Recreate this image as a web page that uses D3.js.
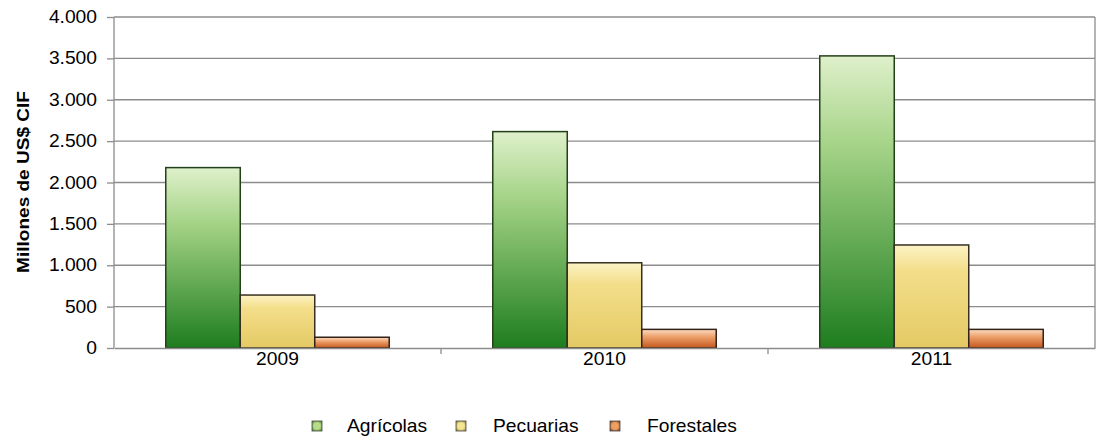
<!DOCTYPE html>
<html><head><meta charset="utf-8">
<script src="https://cdn.jsdelivr.net/npm/d3@7"></script>
<style>body{margin:0;background:#fff;font-family:"Liberation Sans",Arial,sans-serif}
text{font-family:"Liberation Sans",Arial,sans-serif}</style>
</head><body><svg id="c" width="1097" height="440"></svg>
<script>
const years = ["2009","2010","2011"];
const seriesNames = ["Agrícolas","Pecuarias","Forestales"];
const agricolas = [2180, 2615, 3530];
const pecuarias = [640, 1030, 1245];
const forestales = [130, 225, 225];
const yTicks = [0,500,1000,1500,2000,2500,3000,3500,4000];

const values = [agricolas, pecuarias, forestales];
const svg = d3.select("#c");
const m = {l:114, r:1095, t:17, b:348};
const FS = "17.5px", SX = 1.1;
const x0 = d3.scaleBand().domain(years).range([m.l, m.r]).paddingInner(0).paddingOuter(0);
const x1 = d3.scaleBand().domain(seriesNames).range([0, x0.bandwidth()]).paddingInner(0).paddingOuter(0.695);
const y = d3.scaleLinear().domain([0,4000]).range([m.b, m.t]);

const defs = svg.append("defs");
const grads = [
  {id:"gA", stops:[["0%","#dff0cb"],["30%","#a6d488"],["100%","#1e7d1e"]], stroke:"#24401a", leg:["#b8dc88","#3f7f24"]},
  {id:"gP", stops:[["0%","#fcf3c4"],["25%","#f3de8a"],["100%","#e4c964"]], stroke:"#363020", leg:["#f4e690","#8c7c34"]},
  {id:"gF", stops:[["0%","#fcdcc2"],["40%","#eda06a"],["100%","#c4561c"]], stroke:"#33221a", leg:["#eda060","#6e341a"]}
];
grads.forEach(g=>{
  const lg = defs.append("linearGradient").attr("id",g.id).attr("x1","0").attr("y1","0").attr("x2","0").attr("y2","1");
  g.stops.forEach(s=>lg.append("stop").attr("offset",s[0]).attr("stop-color",s[1]));
  const rg = defs.append("radialGradient").attr("id",g.id+"L").attr("r","0.7");
  rg.append("stop").attr("offset","0%").attr("stop-color",g.leg[0]);
  rg.append("stop").attr("offset","45%").attr("stop-color",g.leg[0]);
  rg.append("stop").attr("offset","100%").attr("stop-color",g.leg[1]);
});

// gridlines
svg.append("g").selectAll("line").data(yTicks.slice(1)).join("line")
  .attr("x1",m.l).attr("x2",m.r).attr("y1",d=>y(d)).attr("y2",d=>y(d))
  .attr("stroke","#8c8c8c").attr("stroke-width",1.3);
// right border
svg.append("line").attr("x1",m.r).attr("x2",m.r).attr("y1",m.t).attr("y2",m.b).attr("stroke","#8c8c8c").attr("stroke-width",1.3);

// bars
const g = svg.append("g");
years.forEach((yr,i)=>{
  seriesNames.forEach((s,j)=>{
    const v = values[j][i];
    g.append("rect")
      .attr("x", x0(yr)+x1(s)).attr("width", x1.bandwidth())
      .attr("y", y(v)).attr("height", y(0)-y(v))
      .attr("fill", `url(#${grads[j].id})`)
      .attr("stroke", grads[j].stroke).attr("stroke-width",1.5);
  });
});

// y axis
const ya = svg.append("g").attr("transform",`translate(${m.l},0)`)
  .call(d3.axisLeft(y).tickValues(yTicks).tickSize(7).tickPadding(0)
    .tickFormat(d=>d3.format(",")(d).replace(/,/g,".")));
ya.attr("font-size",null).attr("font-family",null);
ya.select(".domain").attr("stroke","#8c8c8c").attr("stroke-width",1.3).attr("d",`M-0,${m.t}V${m.b}`);
ya.selectAll(".tick line").attr("stroke","#8c8c8c").attr("stroke-width",1.3);
ya.selectAll("text").attr("x",null).attr("transform",`translate(-17,0) scale(${SX},1)`)
  .style("font-size",FS).attr("fill","#000");

// x axis
const xa = svg.append("g").attr("transform",`translate(0,${m.b})`)
  .call(d3.axisBottom(x0).tickSize(0).tickPadding(5));
xa.attr("font-size",null).attr("font-family",null);
xa.select(".domain").attr("stroke","#8c8c8c").attr("stroke-width",1.3);
xa.selectAll("text").attr("transform",`scale(${SX},1)`).style("font-size",FS).attr("fill","#000");
svg.append("g").selectAll("line").data(years.slice(1)).join("line")
  .attr("x1",d=>x0(d)).attr("x2",d=>x0(d)).attr("y1",m.b).attr("y2",m.b+6)
  .attr("stroke","#8c8c8c").attr("stroke-width",1.3);

// y title
svg.append("text").attr("transform","translate(29,182) rotate(-90) scale(1.12,1)")
  .attr("text-anchor","middle").style("font-size","17px").attr("font-weight","bold")
  .text("Millones de US$ CIF");

// legend
const legSq = [317, 461, 615];
const legTx = [347, 493, 647];
seriesNames.forEach((s,j)=>{
  svg.append("rect").attr("x",legSq[j]-5).attr("y",421).attr("width",10).attr("height",10)
    .attr("fill",`url(#${grads[j].id}L)`).attr("stroke","#444").attr("stroke-width",0.8);
  svg.append("text").attr("transform",`translate(${legTx[j]},432) scale(${SX},1)`)
    .style("font-size",FS).text(s);
});
</script></body></html>
